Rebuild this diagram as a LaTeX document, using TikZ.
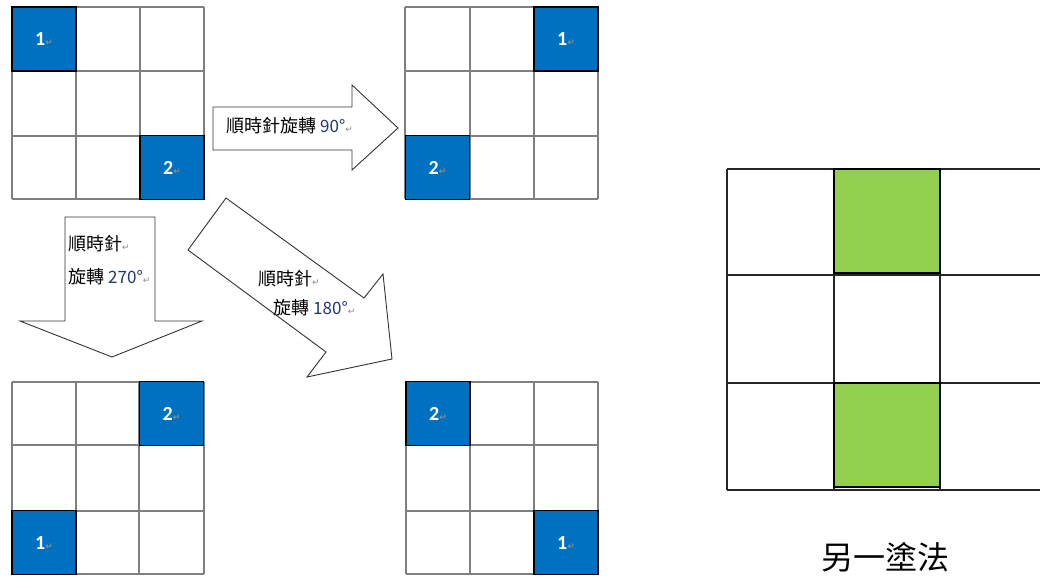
\documentclass[tikz,border=0pt]{standalone}
\usepackage{fontspec}
\setmainfont{Liberation Sans}
\newfontfamily\cjk{Noto Sans CJK TC}
\newfontfamily\numfont{Carlito}[BoldFont={Carlito Bold}]
\newfontfamily\markfont{DejaVu Sans}
\definecolor{cellblue}{HTML}{0070C0}
\definecolor{cellgreen}{HTML}{92D050}
\definecolor{gridgray}{HTML}{7F7F7F}
\definecolor{degblue}{HTML}{1F3A6E}
% paragraph mark that follows each text
\newcommand\pmark{{\markfont\color{black!45}\fontsize{9}{9}\selectfont ↵}}
\newcommand\degval[1]{{\fontsize{17}{17}\selectfont\color{degblue}#1°}}

\begin{document}
\begin{tikzpicture}[x=1pt,y=-1pt,
  gridline/.style={draw=gridgray, line width=1.3pt},
  biggrid/.style={draw=black!85, line width=1.3pt},
  bluecell/.style={draw=black, line width=1.3pt, fill=cellblue,
    minimum width=64pt, minimum height=64pt, inner sep=0pt, text=white,
    font=\numfont\bfseries\fontsize{20}{20}\selectfont},
  greencell/.style={draw=black, line width=1.8pt, fill=cellgreen},
  arrowshape/.style={draw=black!80, line width=0.9pt, fill=white, line join=miter},
  caption/.style={font=\cjk\fontsize{18}{20}\selectfont, inner sep=0pt, anchor=west}
]
\clip (0,0) rectangle (1040,576);
\fill[white] (0,0) rectangle (1040,576);

% ---- four 3x3 grids ----
\foreach \a/\b/\c/\d/\e/\f/\g/\h in {
   12/76/140/204/7/71/136/199,
   405/470/534/598/7/71/136/199,
   12/76/139/204/382/445/511/574,
   406/470/534/598/382/445/511/574}{
  \foreach \x in {\a,\b,\c,\d} \draw[gridline] (\x,\e) -- (\x,\h);
  \foreach \y in {\e,\f,\g,\h} \draw[gridline] (\a,\y) -- (\d,\y);
}

% ---- coloured cells ----
\node[bluecell] (tl1) at (44,39) {1\pmark};
\node[bluecell] (tl2) at (172,167.5) {2\pmark};
\node[bluecell] (tr1) at (566,39) {1\pmark};
\node[bluecell] (tr2) at (437.5,167.5) {2\pmark};
\node[bluecell] (bl2) at (171.5,413.5) {2\pmark};
\node[bluecell] (bl1) at (44,542.5) {1\pmark};
\node[bluecell] (br2) at (438,413.5) {2\pmark};
\node[bluecell] (br1) at (566,542.5) {1\pmark};

% ---- block arrows ----
% right: 90 degrees
\draw[arrowshape] (213,107) -- (352,107) -- (352,85) -- (398,128)
  -- (352,170) -- (352,150) -- (213,150) -- cycle;
\node[caption] (t90) at (226,126) {順時針旋轉 \degval{90}\pmark};

% down: 270 degrees
\draw[arrowshape] (65,217) -- (155,217) -- (155,321) -- (202,321)
  -- (112,357) -- (20,321) -- (65,321) -- cycle;
\node[caption] (t270a) at (68,244) {順時針\pmark};
\node[caption] (t270b) at (68,277) {旋轉 \degval{270}\pmark};

% diagonal: 180 degrees
\draw[arrowshape] (226,198) -- (364,298) -- (383,274) -- (392,359)
  -- (307,377) -- (326,352) -- (188,250) -- cycle;
\node[caption] (t180a) at (258,279) {順時針\pmark};
\node[caption] (t180b) at (273,308) {旋轉 \degval{180}\pmark};

% ---- large grid ----
\fill[cellgreen] (834,169) rectangle (940,273);
\fill[cellgreen] (834,383) rectangle (940,487);
\foreach \x in {727,834,940,1047} \draw[biggrid] (\x,169) -- (\x,490);
\foreach \y in {169,275,383,490} \draw[biggrid] (727,\y) -- (1047,\y);
\draw[greencell, fill=none] (834,169) rectangle (940,273);
\draw[greencell, fill=none] (834,383) rectangle (940,487);

\node[font=\cjk\fontsize{32}{34}\selectfont, inner sep=0pt] (other) at (885,557) {另一塗法};
\end{tikzpicture}
\end{document}
